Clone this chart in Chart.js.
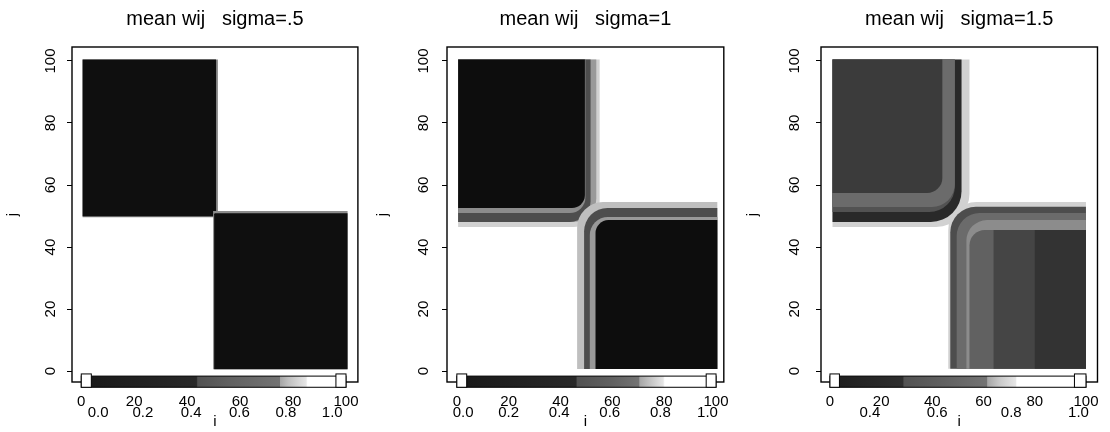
<!DOCTYPE html>
<html>
<head>
<meta charset="utf-8">
<script src="https://cdn.jsdelivr.net/npm/chart.js@4.4.1/dist/chart.umd.min.js"></script>
<style>
  body { margin: 0; background: #fff; }
  .panel { position: absolute; top: 0; width: 370px; height: 432px; }
</style>
</head>
<body>
<div class="panel" style="left:0px"><canvas id="p1" width="370" height="432"></canvas></div>
<div class="panel" style="left:370px"><canvas id="p2" width="370" height="432"></canvas></div>
<div class="panel" style="left:740px"><canvas id="p3" width="370" height="432"></canvas></div>
<script>
const ticksX = [0, 20, 40, 60, 80, 100]
const ticksY = [0, 20, 40, 60, 80, 100]
const titles = ['mean wij   sigma=.5', 'mean wij   sigma=1', 'mean wij   sigma=1.5']

// regions of the mean wij matrix
// [i from, i to, j from, j to, rounding of the inner corner, tone]  tone: 0 black .. 1 white
const upper05 = [
  [0.5, 51.6, 49.6, 100.5, 0, 0.5],
  [0.5, 50.9, 49.9, 100.5, 0.4, 0.06]
]
const lower05 = [
  [49.8, 100.6, 0.6, 51.6, 0, 0.55],
  [50.2, 100.6, 0.6, 50.9, 0.4, 0.06]
]
const upper1 = [
  [0.5, 55.1, 46.5, 100.5, 10, 0.82],
  [0.5, 53.8, 48.1, 100.5, 9, 0.6],
  [0.5, 51.6, 48.1, 100.5, 8, 0.3],
  [0.5, 49.6, 51.0, 100.5, 6, 0.55],
  [0.5, 49.4, 52.6, 100.5, 5, 0.05]
]
const lower1 = [
  [46.4, 100.5, 0.7, 54.5, 10, 0.75],
  [49.1, 100.5, 0.7, 52.6, 9, 0.3],
  [51.3, 100.5, 0.7, 49.7, 7, 0.6],
  [53.5, 100.5, 0.7, 48.7, 5, 0.05]
]
const upper15 = [
  [1, 54.5, 46.5, 100.5, 13, 0.82],
  [1, 51.4, 48.1, 100.5, 12, 0.16],
  [1, 48.8, 51.3, 100.5, 10, 0.32],
  [1, 48.8, 52.9, 100.5, 9, 0.42],
  [1, 43.9, 57.4, 100.5, 6, 0.23]
]
const lower15 = [
  [46.2, 100, 0.8, 54.5, 11, 0.82],
  [47.0, 100, 0.8, 53.0, 10, 0.3],
  [49.5, 100, 0.8, 51.0, 9, 0.42],
  [53.3, 100, 0.8, 48.7, 8, 0.55],
  [54.5, 100, 0.8, 45.5, 6, 0.38],
  [63.9, 100, 0.8, 45.5, 0, 0.27],
  [80, 100, 0.8, 45.5, 0, 0.2]
]

// colour bar under each panel: [i, tone] and its value labels
const bar05 = [[4, 0.1], [43.5, 0.16], [44, 0.32], [56, 0.38], [74.9, 0.45], [75.2, 0.65], [78.2, 0.75], [84.9, 0.9], [85.5, 1]]
const bar1 = [[4.2, 0.1], [46, 0.16], [46.4, 0.32], [60, 0.38], [70.2, 0.45], [70.6, 0.65], [74, 0.75], [79.6, 0.9], [80.2, 1]]
const bar15 = [[3.7, 0.12], [28.5, 0.18], [28.9, 0.32], [45, 0.38], [61.2, 0.45], [61.6, 0.65], [66, 0.78], [72.5, 0.9], [73, 1]]
const barLabels05 = ['0.0', '0.2', '0.4', '0.6', '0.8', '1.0']
const barAt05 = [6.4, 23.3, 41.5, 59.7, 77.3, 94.8]
const barLabels1 = ['0.0', '0.2', '0.4', '0.6', '0.8', '1.0']
const barAt1 = [2.4, 20, 39.5, 59, 78.5, 96.7]
const barLabels15 = ['0.4', '0.6', '0.8', '1.0']
const barAt15 = [15.6, 41.9, 70.8, 97.1]

const FONT = '"Liberation Sans", Arial, Helvetica, sans-serif'
Chart.defaults.font.family = FONT
Chart.defaults.color = '#000'

const gray = t => {
  const g = Math.round(t * 255)
  return `rgb(${g},${g},${g})`
}

function region(ctx, l, t, r, b, rad, corner) {
  rad = Math.max(0, Math.min(rad, r - l, b - t))
  ctx.beginPath()
  if (corner === 'br') {
    ctx.moveTo(l, t)
    ctx.lineTo(r, t)
    ctx.lineTo(r, b - rad)
    ctx.arcTo(r, b, r - rad, b, rad)
    ctx.lineTo(l, b)
  } else {
    ctx.moveTo(l + rad, t)
    ctx.lineTo(r, t)
    ctx.lineTo(r, b)
    ctx.lineTo(l, b)
    ctx.lineTo(l, t + rad)
    ctx.arcTo(l, t, l + rad, t, rad)
  }
  ctx.closePath()
  ctx.fill()
}

function heatmap(p) {
  return {
    id: 'heatmap',
    afterDraw(chart) {
      const { ctx, chartArea: a, scales: { x, y } } = chart
      const px = v => x.getPixelForValue(v)
      const py = v => y.getPixelForValue(v)
      const unit = px(1) - px(0)

      ctx.save()
      ctx.beginPath()
      ctx.rect(a.left, a.top, a.width, a.height)
      ctx.clip()
      p.upper.forEach(c => {
        ctx.fillStyle = gray(c[5])
        region(ctx, px(c[0]), py(c[3]), px(c[1]), py(c[2]), c[4] * unit, 'br')
      })
      p.lower.forEach(c => {
        ctx.fillStyle = gray(c[5])
        region(ctx, px(c[0]), py(c[3]), px(c[1]), py(c[2]), c[4] * unit, 'tl')
      })
      ctx.restore()

      ctx.save()
      ctx.strokeStyle = '#000'
      ctx.lineWidth = 1.4
      ctx.strokeRect(a.left, a.top, a.width, a.height)

      // colour bar
      const l = px(0), r = px(100)
      const capTop = py(-0.9), top = py(-1.6), bot = py(-5.2)
      ctx.fillStyle = '#fff'
      ctx.fillRect(l, capTop, r - l, bot - capTop)
      const grad = ctx.createLinearGradient(l, 0, r, 0)
      p.bar.forEach(s => grad.addColorStop(s[0] / 100, gray(s[1])))
      ctx.fillStyle = grad
      ctx.fillRect(l, top, r - l, bot - top)
      ctx.lineWidth = 1
      ctx.strokeRect(l, top, r - l, bot - top)
      const capL = px(p.capLeft), capR = px(p.capRight)
      ctx.fillStyle = '#fff'
      ctx.fillRect(l, capTop, capL - l, bot - capTop)
      ctx.fillRect(capR, capTop, r - capR, bot - capTop)
      ctx.strokeRect(l, capTop, capL - l, bot - capTop)
      ctx.strokeRect(capR, capTop, r - capR, bot - capTop)

      ctx.fillStyle = '#000'
      ctx.font = '15px ' + FONT
      ctx.textAlign = 'center'
      ctx.textBaseline = 'middle'
      p.labels.forEach((lab, k) => ctx.fillText(lab, px(p.at[k]), a.bottom + 31))
      ctx.restore()
    }
  }
}

const panels = [
  { id: 'p1', title: titles[0], upper: upper05, lower: lower05, bar: bar05, labels: barLabels05, at: barAt05,
    xMin: -3.5, xMax: 104.5, axisW: 72, right: 11, pad: 3.5, capLeft: 3.8, capRight: 96.2 },
  { id: 'p2', title: titles[1], upper: upper1, lower: lower1, bar: bar1, labels: barLabels1, at: barAt1,
    xMin: -3.8, xMax: 103, axisW: 77, right: 10, pad: 5.5, capLeft: 3.8, capRight: 96.2 },
  { id: 'p3', title: titles[2], upper: upper15, lower: lower15, bar: bar15, labels: barLabels15, at: barAt15,
    xMin: -3.5, xMax: 104.5, axisW: 81, right: 2, pad: 9, capLeft: 3.7, capRight: 95.5 }
]

panels.forEach(p => {
  new Chart(document.getElementById(p.id), {
    type: 'scatter',
    data: { datasets: [] },
    options: {
      responsive: false,
      animation: false,
      layout: { autoPadding: false, padding: { left: 0, right: p.right, top: 0, bottom: 0 } },
      plugins: {
        legend: { display: false },
        tooltip: { enabled: false },
        title: {
          display: true,
          text: p.title,
          fullSize: false,
          font: { size: 20, weight: 'normal' },
          padding: { top: 7, bottom: 16 }
        }
      },
      scales: {
        x: {
          type: 'linear',
          min: p.xMin,
          max: p.xMax,
          afterBuildTicks: s => { s.ticks = ticksX.map(v => ({ value: v })) },
          afterFit: s => { s.height = 50 },
          grid: { display: false, drawTicks: false },
          border: { display: false },
          ticks: { font: { size: 15 }, padding: 11, maxRotation: 0, autoSkip: false },
          title: { display: true, text: 'i', font: { size: 15 }, padding: { top: 1, bottom: 1 } }
        },
        y: {
          type: 'linear',
          min: -3.5,
          max: 104.5,
          afterBuildTicks: s => { s.ticks = ticksY.map(v => ({ value: v })) },
          afterFit: s => { s.width = p.axisW },
          grid: { drawOnChartArea: false, drawTicks: true, tickLength: 5, color: '#000', lineWidth: 1 },
          border: { display: false },
          ticks: { font: { size: 15 }, minRotation: 90, maxRotation: 90, crossAlign: 'center', padding: p.pad, autoSkip: false },
          title: { display: true, text: 'j', font: { size: 15 }, padding: { top: 4, bottom: 0 } }
        }
      }
    },
    plugins: [heatmap(p)]
  })
})
</script>
</body>
</html>
